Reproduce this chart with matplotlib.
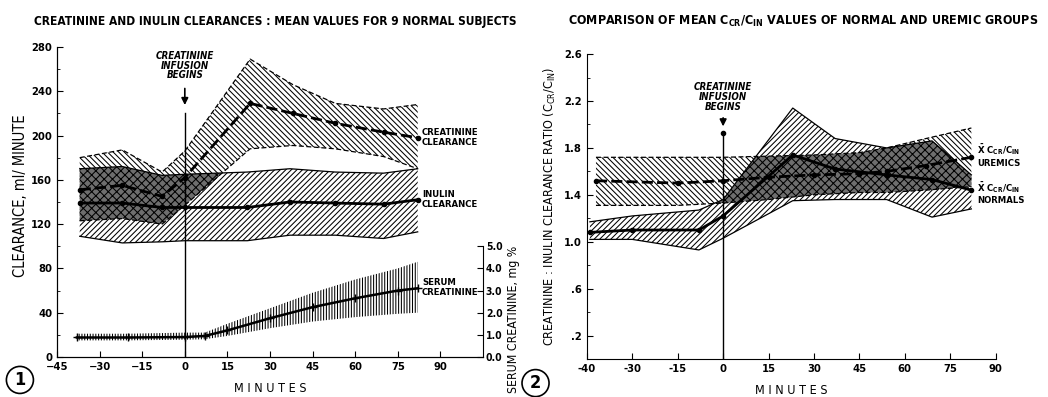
import numpy as np
import matplotlib
matplotlib.use("Agg")
import matplotlib.pyplot as plt
from matplotlib.ticker import FixedLocator, FixedFormatter, MultipleLocator

plt.rcParams["font.family"] = ["DejaVu Sans"]
plt.rcParams["font.stretch"] = "condensed"
plt.rcParams["font.weight"] = "bold"
plt.rcParams["hatch.linewidth"] = 0.75
plt.rcParams["mathtext.default"] = "regular"

# ---- panel 1: creatinine and inulin clearances (ml/min) ----
cr_t = [-37, -22, -8, 0, 23, 38, 53, 70, 82]
cr_mean = [151, 155, 145, 162, 229, 220, 211, 203, 198]
cr_hi = [180, 187, 167, 186, 269, 246, 229, 224, 228]
cr_lo = [123, 125, 120, 137, 188, 191, 188, 181, 170]

in_t = [-37, -22, -8, 0, 22, 37, 53, 70, 82]
in_mean = [139, 139, 135, 135, 135, 140, 139, 138, 142]
in_hi = [170, 172, 164, 165, 167, 170, 167, 166, 170]
in_lo = [109, 103, 104, 105, 105, 110, 110, 107, 113]

# serum creatinine (mg %)
sc_t = [-38, -20, 0, 7, 15, 30, 45, 60, 75, 82]
sc_mean = [0.88, 0.88, 0.9, 0.95, 1.2, 1.75, 2.25, 2.65, 3.0, 3.1]
sc_hi = [1.05, 1.05, 1.1, 1.1, 1.5, 2.2, 2.9, 3.5, 4.0, 4.3]
sc_lo = [0.75, 0.75, 0.78, 0.8, 0.95, 1.3, 1.6, 1.8, 1.95, 2.0]

# ---- panel 2: Ccr/Cin ratio ----
no_t = [-44, -30, -8, 0, 23, 37, 54, 69, 82]
no_mean = [1.08, 1.10, 1.10, 1.22, 1.74, 1.62, 1.57, 1.53, 1.44]
no_hi = [1.17, 1.22, 1.27, 1.36, 2.14, 1.88, 1.80, 1.86, 1.57]
no_lo = [1.02, 1.02, 0.93, 1.03, 1.35, 1.36, 1.36, 1.21, 1.28]

ur_t = [-42, -15, 0, 15, 30, 45, 54, 67, 82]
ur_mean = [1.52, 1.50, 1.52, 1.55, 1.57, 1.58, 1.60, 1.65, 1.72]
ur_hi = [1.72, 1.72, 1.72, 1.73, 1.74, 1.76, 1.80, 1.88, 1.97]
ur_lo = [1.31, 1.31, 1.33, 1.36, 1.40, 1.42, 1.42, 1.44, 1.47]

x1_ticks = [-45, -30, -15, 0, 15, 30, 45, 60, 75, 90]
x2_ticks = [-45, -30, -15, 0, 15, 30, 45, 60, 75, 90]
x2_labels = ["-40", "-30", "-15", "0", "15", "30", "45", "60", "75", "90"]
y2_ticks = [0.2, 0.6, 1.0, 1.4, 1.8, 2.2, 2.6]
y2_labels = [".2", ".6", "1.0", "1.4", "1.8", "2.2", "2.6"]


def band(ax, t, hi, lo, hatch, ls):
    ax.fill_between(t, lo, hi, facecolor="white", edgecolor="black",
                    hatch=hatch, linewidth=0, zorder=1)
    ax.plot(t, hi, color="black", lw=0.9, ls=ls, zorder=4)
    ax.plot(t, lo, color="black", lw=0.9, ls=ls, zorder=4)


def overlap(ax, t1, hi1, lo1, t2, hi2, lo2):
    g = np.linspace(max(t1[0], t2[0]), min(t1[-1], t2[-1]), 600)
    top = np.minimum(np.interp(g, t1, hi1), np.interp(g, t2, hi2))
    bot = np.maximum(np.interp(g, t1, lo1), np.interp(g, t2, lo2))
    ax.fill_between(g, bot, top, where=top > bot, facecolor="#6e6e6e",
                    edgecolor="black", hatch="xxxx", linewidth=0, zorder=2)


def mean_line(ax, t, m, ls):
    ax.plot(t, m, color="black", lw=2.0, ls=ls, marker="o", ms=3, zorder=5)


fig = plt.figure(figsize=(10.48, 3.97), dpi=100)

# ================= panel 1 =================
ax1 = fig.add_axes([0.0544, 0.1008, 0.4065, 0.781])
band(ax1, cr_t, cr_hi, cr_lo, "\\\\\\\\\\\\", (0, (4, 2)))
band(ax1, in_t, in_hi, in_lo, "//////", "-")
overlap(ax1, cr_t, cr_hi, cr_lo, in_t, in_hi, in_lo)
mean_line(ax1, cr_t, cr_mean, (0, (4, 1.5)))
mean_line(ax1, in_t, in_mean, "-")
ax1.set_xlim(-45, 105)
ax1.set_ylim(0, 280)
ax1.set_xticks(x1_ticks)
ax1.yaxis.set_major_locator(MultipleLocator(40))
ax1.yaxis.set_minor_locator(MultipleLocator(20))
ax1.tick_params(direction="in", labelsize=8, length=4)
ax1.tick_params(which="minor", direction="in", length=2)
for s in ["top", "right"]:
    ax1.spines[s].set_visible(False)
ax1.plot([0, 0], [0, 220], color="black", lw=1, zorder=6)
ax1.annotate("", xy=(0, 225), xytext=(0, 245),
             arrowprops=dict(arrowstyle="-|>", color="black", lw=1.2))
ax1.text(0, 250, "CREATININE\nINFUSION\nBEGINS", ha="center", va="bottom",
         fontsize=7, style="italic", linespacing=0.95)
ax1.text(83.5, 198, "CREATININE\nCLEARANCE", ha="left", va="center", fontsize=6.8)
ax1.text(83.5, 142, "INULIN\nCLEARANCE", ha="left", va="center", fontsize=6.8)
ax1.text(83.5, 63, "SERUM\nCREATININE", ha="left", va="center", fontsize=6.8)
ax1.set_xlabel("M I N U T E S", fontsize=9, labelpad=7)
ax1.set_ylabel("CLEARANCE, ml/ MINUTE", fontsize=10.5, labelpad=2, y=0.52)

ax1r = ax1.twinx()
ax1r.fill_between(sc_t, sc_lo, sc_hi, facecolor="none", edgecolor="black",
                  hatch="||||||", linewidth=0)
ax1r.plot(sc_t, sc_mean, color="black", lw=1.8, marker="+", ms=6, mew=1)
ax1r.set_ylim(0, 14)
ax1r.spines["right"].set_bounds(0, 5)
ax1r.spines["top"].set_visible(False)
ax1r.set_yticks([0, 1, 2, 3, 4, 5])
ax1r.set_yticklabels(["0.0", "1.0", "2.0", "3.0", "4.0", "5.0"])
ax1r.tick_params(direction="in", labelsize=7.5, length=4, pad=2)
ax1r.set_ylabel("SERUM CREATININE, mg %", fontsize=8.8, y=0.12, labelpad=3)

fig.text(0.032, 0.945, "CREATININE AND INULIN CLEARANCES : MEAN VALUES FOR 9 NORMAL SUBJECTS",
         fontsize=8.6, ha="left", va="center")
fig.text(0.019, 0.043, "1", fontsize=13, ha="center", va="center",
         bbox=dict(boxstyle="circle,pad=0.25", fc="white", ec="black", lw=1.2))

# ================= panel 2 =================
ax2 = fig.add_axes([0.560, 0.0957, 0.390, 0.768])
band(ax2, ur_t, ur_hi, ur_lo, "\\\\\\\\\\\\", (0, (4, 2)))
band(ax2, no_t, no_hi, no_lo, "//////", "-")
overlap(ax2, ur_t, ur_hi, ur_lo, no_t, no_hi, no_lo)
mean_line(ax2, ur_t, ur_mean, (0, (4, 1.5)))
mean_line(ax2, no_t, no_mean, "-")
ax2.set_xlim(-45, 90)
ax2.set_ylim(0, 2.6)
ax2.xaxis.set_major_locator(FixedLocator(x2_ticks))
ax2.xaxis.set_major_formatter(FixedFormatter(x2_labels))
ax2.yaxis.set_major_locator(FixedLocator(y2_ticks))
ax2.yaxis.set_major_formatter(FixedFormatter(y2_labels))
ax2.yaxis.set_minor_locator(FixedLocator([0.4, 0.8, 1.2, 1.6, 2.0, 2.4]))
ax2.tick_params(direction="in", labelsize=8, length=4)
ax2.tick_params(which="minor", direction="in", length=2)
for s in ["top", "right"]:
    ax2.spines[s].set_visible(False)
ax2.plot([0, 0], [0, 1.93], color="black", lw=1, zorder=6)
ax2.plot([0], [1.93], "ko", ms=3, zorder=6)
ax2.annotate("", xy=(0, 1.96), xytext=(0, 2.08),
             arrowprops=dict(arrowstyle="-|>", color="black", lw=1.2))
ax2.text(0, 2.11, "CREATININE\nINFUSION\nBEGINS", ha="center", va="bottom",
         fontsize=7, style="italic", linespacing=0.95)
ax2.text(84, 1.74, r"$\bar{X}$ C$_{CR}$/C$_{IN}$" + "\nUREMICS", ha="left",
         va="center", fontsize=6.8)
ax2.text(84, 1.42, r"$\bar{X}$ C$_{CR}$/C$_{IN}$" + "\nNORMALS", ha="left",
         va="center", fontsize=6.8)
ax2.set_xlabel("M I N U T E S", fontsize=9, labelpad=7)
ax2.set_ylabel("CREATININE : INULIN CLEARANCE RATIO (C$_{CR}$/C$_{IN}$)",
               fontsize=9, y=0.5, labelpad=4)

fig.text(0.542, 0.945, "COMPARISON OF MEAN C$_{CR}$/C$_{IN}$ VALUES OF NORMAL AND UREMIC GROUPS",
         fontsize=9, ha="left", va="center")
fig.text(0.511, 0.035, "2", fontsize=13, ha="center", va="center",
         bbox=dict(boxstyle="circle,pad=0.25", fc="white", ec="black", lw=1.2))

fig.savefig("out.png", dpi=100)
